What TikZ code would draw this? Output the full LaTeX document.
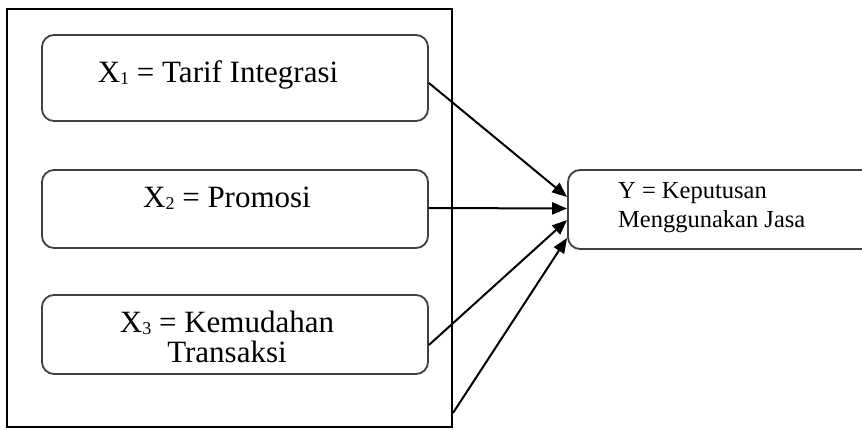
\documentclass[tikz,border=0pt]{standalone}
\usepackage{fontspec}
\setmainfont{Liberation Serif}
\usetikzlibrary{arrows.meta}
\newcommand{\sbs}[1]{\raisebox{-2pt}{\fontsize{18}{18}\selectfont #1}}
\begin{document}
\begin{tikzpicture}[x=1pt,y=-1pt,
  vbox/.style={draw=black!75,line width=1.8pt,rounded corners=12pt,inner sep=0pt},
  lbl/.style={inner sep=0pt,font=\fontsize{31}{34}\selectfont,align=center},
  arr/.style={line width=2pt,-{Triangle[length=15pt,width=12pt]}}]
\clip (0,0) rectangle (862,430);
\useasboundingbox (0,0) rectangle (862,430);
\fill[white] (0,0) rectangle (862,430);
\node[draw,line width=1.6pt,minimum width=445pt,minimum height=418pt,inner sep=0pt] (outer) at (229.5,218) {};
\node[vbox,minimum width=386pt,minimum height=86pt] (b1) at (235,78) {};
\node[vbox,minimum width=386pt,minimum height=78pt] (b2) at (235,209) {};
\node[vbox,minimum width=386pt,minimum height=79pt] (b3) at (235,334.5) {};
\node[vbox,minimum width=332pt,minimum height=79pt] (y) at (734,209.5) {};
\node[lbl] (t1) at (218,75) {X\sbs{1} = Tarif Integrasi};
\node[lbl] (t2) at (227,198) {X\sbs{2} = Promosi};
\node[lbl,font=\fontsize{31}{30}\selectfont] (t3) at (227,337) {X\sbs{3} = Kemudahan\\ Transaksi};
\node[inner sep=0pt,font=\fontsize{24.5}{29}\selectfont,align=left,anchor=west] (ty) at (618,208) {Y = Keputusan\\Menggunakan Jasa};
\coordinate (c4) at (453,413);
\draw[arr] ([yshift=-5pt]b1.east) -- ([yshift=12.5pt]y.west);
\draw[arr] ([yshift=1pt]b2.east) -- ([yshift=1pt]y.west);
\draw[arr] ([yshift=-10.5pt]b3.east) -- ([yshift=-10.5pt]y.west);
\draw[arr] (c4) -- ([yshift=-28.5pt]y.west);
\end{tikzpicture}
\end{document}
